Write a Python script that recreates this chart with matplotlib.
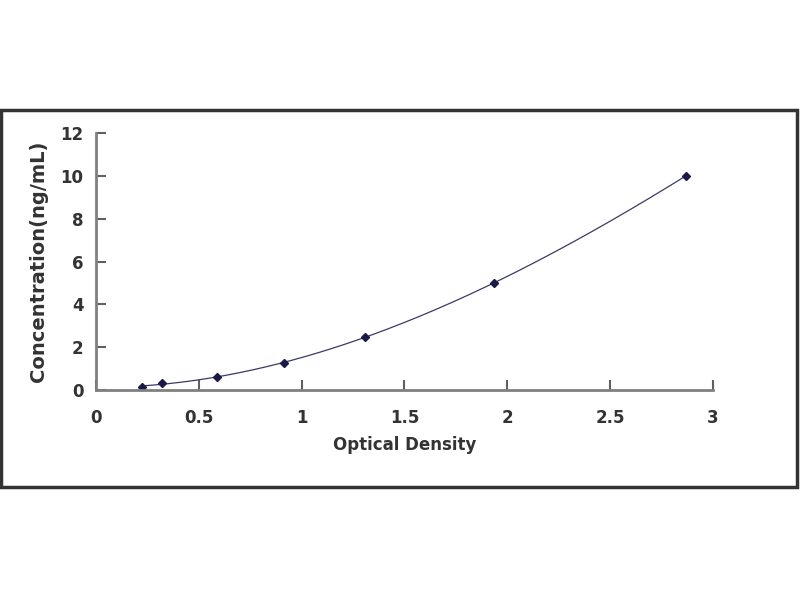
import numpy as np
import matplotlib.pyplot as plt
from matplotlib.patches import Rectangle

od = [0.222, 0.322, 0.590, 0.916, 1.310, 1.936, 2.868]
conc = [0.156, 0.313, 0.625, 1.25, 2.5, 5.0, 10.0]
x_ticks = [0, 0.5, 1, 1.5, 2, 2.5, 3]
x_tick_labels = ['0', '0.5', '1', '1.5', '2', '2.5', '3']
y_ticks = [0, 2, 4, 6, 8, 10, 12]

plt.rcParams['font.family'] = ['DejaVu Sans']
plt.rcParams['font.weight'] = 'bold'

fig = plt.figure(figsize=(8, 6), dpi=100)
ax = fig.add_axes([0.12, 0.35, 0.771, 0.428])

# smooth fitted curve through the standards
coef = np.polyfit(od, conc, 3)
xs = np.linspace(min(od), max(od), 200)
ax.plot(xs, np.polyval(coef, xs), color='#3a3a6a', lw=0.9)
ax.plot(od, conc, 'D', color='#1a1a4a', ms=4)

ax.set_xlim(0, 3)
ax.set_ylim(0, 12)
ax.set_xticks(x_ticks)
ax.set_xticklabels(x_tick_labels)
ax.set_yticks(y_ticks)
for s in ['top', 'right']:
    ax.spines[s].set_visible(False)
for s in ['left', 'bottom']:
    ax.spines[s].set_color('#808080')
    ax.spines[s].set_linewidth(2)
ax.tick_params(direction='in', length=7, width=1.5, color='#606060',
               labelsize=12, labelcolor='#333333')
ax.tick_params(axis='x', pad=14)
ax.tick_params(axis='y', pad=9)
ax.set_xlabel('Optical Density', fontsize=12, fontweight='bold', color='#333333', labelpad=6)
ax.set_ylabel('Concentration(ng/mL)', fontsize=14, fontweight='bold', color='#333333', labelpad=9)

fig.patches.append(Rectangle((1/800, 113/600), 796/800, 377/600, transform=fig.transFigure,
                             fill=False, edgecolor='#333333', lw=2.5))

fig.savefig('out.png', dpi=100)
